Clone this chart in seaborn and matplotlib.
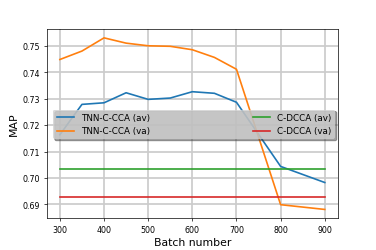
import matplotlib
matplotlib.use("Agg")
import matplotlib.pyplot as plt
import seaborn as sns
import pandas as pd

batch = [300, 350, 400, 450, 500, 550, 600, 650, 700, 800, 900]
tnn_av = [0.7164, 0.7279, 0.7285, 0.7323, 0.7298, 0.7303, 0.7327, 0.7321, 0.7287, 0.7044, 0.6983]
tnn_va = [0.7449, 0.7481, 0.7531, 0.7511, 0.7501, 0.7499, 0.7486, 0.7457, 0.7412, 0.6899, 0.6881]
cdcca_av = 0.7033
cdcca_va = 0.6928

series_names = ["TNN-C-CCA (av)", "TNN-C-CCA (va)", "C-DCCA (av)", "C-DCCA (va)"]
colors = ["#1f77b4", "#ff7f0e", "#2ca02c", "#d62728"]

rows = []
for b, v in zip(batch, tnn_av):
    rows.append((b, v, series_names[0]))
for b, v in zip(batch, tnn_va):
    rows.append((b, v, series_names[1]))
for b in (batch[0], batch[-1]):
    rows.append((b, cdcca_av, series_names[2]))
for b in (batch[0], batch[-1]):
    rows.append((b, cdcca_va, series_names[3]))
df = pd.DataFrame(rows, columns=["batch", "MAP", "series"])

DPI = 376 / 6
fig, ax = plt.subplots(figsize=(6, 4), dpi=DPI)
sns.lineplot(data=df, x="batch", y="MAP", hue="series", hue_order=series_names,
             palette=colors, ax=ax, linewidth=1.9)
ax.set_xlim(270, 930)
ax.set_ylim(0.6847, 0.7563)
ax.set_xticks([300, 400, 500, 600, 700, 800, 900])
ax.set_yticks([0.69, 0.70, 0.71, 0.72, 0.73, 0.74, 0.75])
ax.grid(True, color="#cccccc", linewidth=2.0)
ax.set_axisbelow(True)
ax.set_xlabel("Batch number", fontsize=12.5)
ax.set_ylabel("MAP", fontsize=12.5)
ax.tick_params(labelsize=9, pad=4)

ax.legend(ncol=2, mode="expand", loc="lower left",
          bbox_to_anchor=(0.022, 0.42, 0.968, 0.15), fontsize=10,
          facecolor="#d0d0d0", framealpha=0.8, edgecolor="none",
          shadow=True, borderaxespad=0)
fig.subplots_adjust(left=0.124, right=0.899, top=0.880, bottom=0.126)
fig.savefig("out.png", dpi=DPI)
